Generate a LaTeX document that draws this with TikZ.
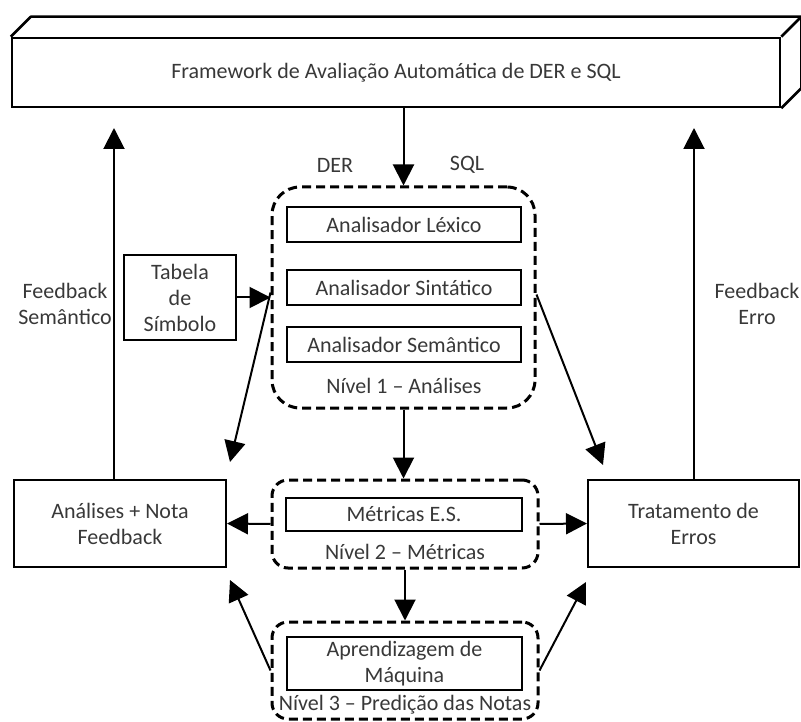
\documentclass[tikz,border=0pt]{standalone}
\usepackage{fontspec}
\setmainfont{Carlito}
\usetikzlibrary{arrows.meta}
\definecolor{txt}{HTML}{383838}
\begin{document}
\begin{tikzpicture}[x=1pt,y=-1pt,
  every node/.style={font=\fontsize{22}{26}\selectfont, text=txt, align=center, inner sep=0pt},
  box/.style={draw=black, line width=2pt, rectangle},
  level/.style={draw=black, line width=3pt, dash pattern=on 9pt off 5pt, rounded corners=#1},
  arr/.style={draw=black, line width=2pt, -{Triangle[length=21pt,width=21pt]}},
  ]
\useasboundingbox (0,0) rectangle (801,722);

% framework block drawn as a flat cuboid
\node[box, line width=2.5pt, minimum width=768, minimum height=69] (fw) at (396,72.5)
  {Framework de Avaliação Automática de DER e SQL};
\draw[line width=2.5pt, line join=round]
  (fw.north west) -- ([shift={(20,-20)}]fw.north west)
  -- ([shift={(20,-20)}]fw.north east) -- ([shift={(20,-20)}]fw.south east)
  -- (fw.south east);
\draw[line width=2.5pt] (fw.north east) -- ([shift={(20,-20)}]fw.north east);

% level 1
\node[level=28, minimum width=263, minimum height=221] (l1) at (403.5,297.5) {};
\node[box, minimum width=234, minimum height=35] (lex) at (404,224.5) {Analisador Léxico};
\node[box, minimum width=234, minimum height=35] (sin) at (404,287.5) {Analisador Sintático};
\node[box, minimum width=234, minimum height=35] (sem) at (404,344.5) {Analisador Semântico};
\node (n1) at (404,386) {Nível 1 – Análises};
\node (der) at (335,165) {DER};
\node (sql) at (467,165) {SQL};

% symbol table
\node[box, minimum width=112, minimum height=85] (tab) at (180,297.5) {Tabela\\de\\Símbolo};

% side feedback labels
\node (fs) at (65,304) {Feedback\\Semântico};
\node (fe) at (757,304) {Feedback\\Erro};

% output blocks
\node[box, minimum width=212, minimum height=87] (an) at (120,523.5) {Análises + Nota\\Feedback};
\node[box, minimum width=211, minimum height=87] (tr) at (693.5,523.5) {Tratamento de\\Erros};

% level 2
\node[level=16, minimum width=266, minimum height=88] (l2) at (405,524) {};
\node[box, minimum width=236, minimum height=33] (met) at (404,514) {Métricas E.S.};
\node (n2) at (405,552) {Nível 2 – Métricas};

% level 3
\node[level=16, minimum width=266, minimum height=97] (l3) at (405,670.5) {};
\node[box, minimum width=235, minimum height=53] (apr) at (404.5,663.5) {Aprendizagem de\\Máquina};
\node (n3) at (405,705) {Nível 3 – Predição das Notas};

% free arrow ends
\coordinate (fsTip) at (114,128);
\coordinate (feTip) at (694,128);
\coordinate (anTipA) at (230,462);
\coordinate (trTipA) at (603,465);
\coordinate (anTipB) at (230,580);
\coordinate (trTipB) at (586,582);

% connectors
\draw[arr] (fw.south -| l1.north) -- (l1.north);
\draw[arr] (an.north -| fsTip) -- (fsTip);
\draw[arr] (tr.north -| feTip) -- (feTip);
\draw[arr] (tab.east) -- (tab.east -| l1.west);
\draw[arr] ([yshift=5]l1.west) -- (anTipA);
\draw[arr] ([yshift=3]l1.east) -- (trTipA);
\draw[arr] (l1.south) -- (l1.south |- l2.north);
\draw[arr] (l2.west) -- (an.east);
\draw[arr] (l2.east) -- (tr.west);
\draw[arr] (l2.south) -- (l3.north);
\draw[arr] (l3.west) -- (anTipB);
\draw[arr] (l3.east) -- (trTipB);
\end{tikzpicture}
\end{document}
